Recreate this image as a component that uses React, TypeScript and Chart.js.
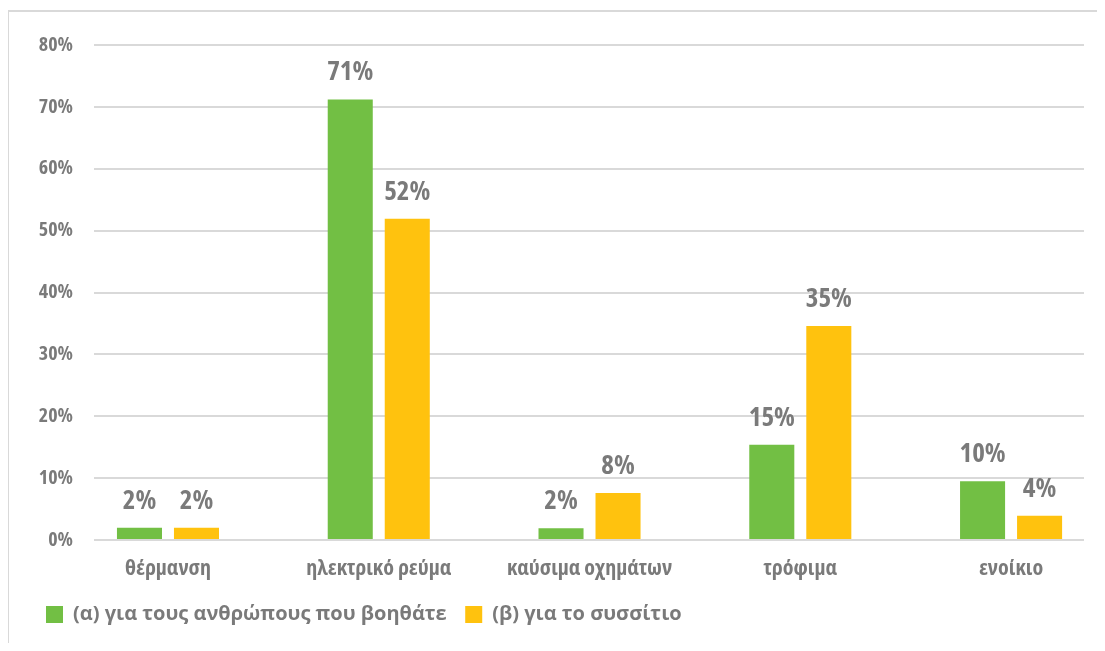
import React, { useEffect, useRef } from 'react';
import { Chart, registerables } from 'chart.js';

Chart.register(...registerables);

const categories = ['θέρμανση', 'ηλεκτρικό ρεύμα', 'καύσιμα οχημάτων', 'τρόφιμα', 'ενοίκιο'];
const seriesNames = ['(α) για τους ανθρώπους που βοηθάτε', '(β) για το συσσίτιο'];
const seriesA = [2.0, 71.2, 1.9, 15.4, 9.5];
const seriesB = [2.0, 51.9, 7.6, 34.6, 3.9];
const yMax = 80;
const yStep = 10;

const GREEN = '#72BF44';
const YELLOW = '#FFC20E';
const TEXT = '#7a7a7a';
const GRID = '#d9d9d9';
const FAMILY = "'Open Sans', sans-serif";
const COND: any = 'bold condensed';

const valueLabels = {
  id: 'valueLabels',
  afterDatasetsDraw(chart: any) {
    const ctx = chart.ctx;
    ctx.save();
    ctx.font = `bold condensed 27px ${FAMILY}`;
    ctx.fillStyle = TEXT;
    ctx.textAlign = 'center';
    ctx.textBaseline = 'alphabetic';
    chart.data.datasets.forEach((ds: any, di: number) => {
      const meta = chart.getDatasetMeta(di);
      meta.data.forEach((bar: any, i: number) => {
        const v = ds.data[i].y;
        ctx.fillText(Math.round(v) + '%', bar.x, bar.y - 19);
      });
    });
    ctx.restore();
  },
};

export default function App() {
  const ref = useRef<HTMLCanvasElement>(null);
  useEffect(() => {
    document.documentElement.style.overflow = 'hidden';
    document.body.style.overflow = 'hidden';
    const chart = new Chart(ref.current as HTMLCanvasElement, {
      type: 'bar',
      data: {
        datasets: [
          {
            label: seriesNames[0],
            data: categories.map((_, i) => ({ x: i, y: seriesA[i] })),
            backgroundColor: GREEN,
            borderWidth: 0,
          },
          {
            label: seriesNames[1],
            data: categories.map((_, i) => ({ x: i, y: seriesB[i] })),
            backgroundColor: YELLOW,
            borderWidth: 0,
          },
        ],
      },
      options: {
        animation: false,
        responsive: false,
        maintainAspectRatio: false,
        categoryPercentage: 0.541,
        barPercentage: 0.79,
        layout: { padding: { left: 18.5, right: 20, top: 33, bottom: 10.5 } },
        plugins: {
          legend: {
            position: 'bottom',
            align: 'start',
            labels: {
              boxWidth: 17,
              boxHeight: 17,
              padding: 18.5,
              color: TEXT,
              font: { family: FAMILY, size: 20, weight: 'bold' },
            },
          },
          tooltip: { enabled: false },
        },
        scales: {
          x: {
            type: 'linear',
            bounds: 'data',
            offset: false,
            min: -0.351,
            max: 4.346,
            afterBuildTicks: (scale: any) => {
              scale.ticks = categories.map((_, i) => ({ value: i }));
            },
            afterFit: (scale: any) => {
              scale.height = 46;
            },
            grid: { display: false, offset: false },
            border: { display: false },
            ticks: {
              autoSkip: false,
              maxRotation: 0,
              padding: 8,
              color: TEXT,
              font: { family: FAMILY, size: 22, weight: COND },
              callback: (v: any) => categories[Math.round(Number(v))] ?? '',
            },
          },
          y: {
            min: 0,
            max: yMax,
            afterFit: (scale: any) => {
              scale.width = 66.5;
            },
            grid: { color: GRID, lineWidth: 2, drawTicks: false },
            border: { display: false },
            ticks: {
              stepSize: yStep,
              padding: 21,
              color: TEXT,
              font: { family: FAMILY, size: 20, weight: COND },
              callback: (v: any) => v + '%',
            },
          },
        },
      },
      plugins: [valueLabels],
    } as any);
    return () => chart.destroy();
  }, []);

  return (
    <div
      style={{
        position: 'relative',
        top: 2,
        left: -1,
        width: 1097,
        height: 635,
        boxSizing: 'border-box',
        borderTop: `2px solid ${GRID}`,
        borderLeft: `2px solid ${GRID}`,
      }}
    >
      <canvas ref={ref} width={1095} height={633} style={{ display: 'block' }} />
    </div>
  );
}
